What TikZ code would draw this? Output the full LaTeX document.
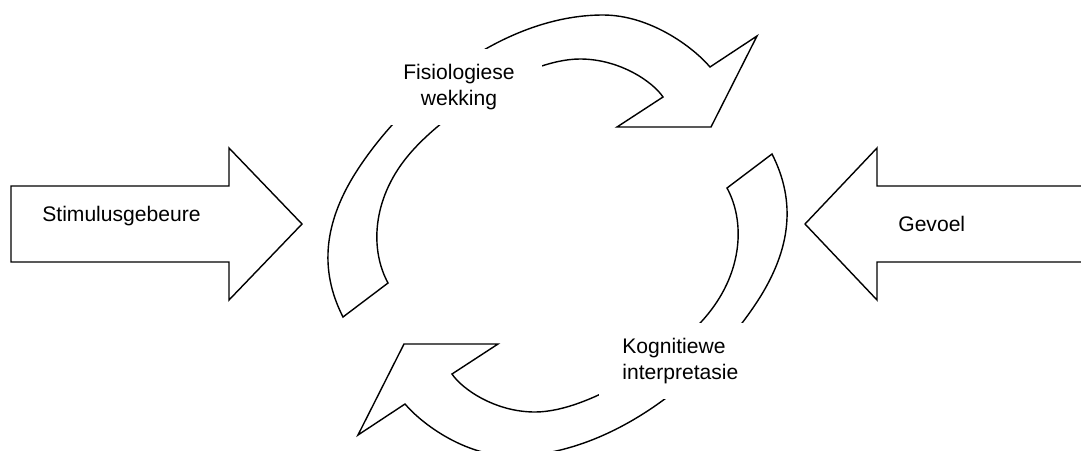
\documentclass[tikz,border=0pt]{standalone}
\usepackage{fontspec}
\setmainfont{Liberation Sans}
\usetikzlibrary{calc}

\begin{document}
\begin{tikzpicture}[
    x=0.02cm, y=-0.02cm,
    outline/.style={draw=black, line width=0.8pt, line join=miter},
    tag/.style={inner sep=0pt, font=\fontsize{12}{14.5}\selectfont},
    cover/.style={tag, fill=white, minimum height=15.2mm}
]
\useasboundingbox (0,0) rectangle (1081,450);
\clip (0,0) rectangle (1081,450);

% two curved arrows, the second one turned half round
\foreach \turn in {0,180}
  \draw[outline, rotate around={\turn:(557.5,235.5)}]
    (343,317) .. controls (318,268) and (326,222) .. (353,177)
    .. controls (400,100) and (500,15) .. (603,15)
    .. controls (650,15) and (693,47) .. (710,67)
    -- (757,36) -- (711,127) -- (617,127) -- (663,97)
    .. controls (653,82) and (620,59) .. (580,59)
    .. controls (525,59) and (440,116) .. (407,157)
    .. controls (372,200) and (370,250) .. (388,283)
    -- cycle;

\node[cover, align=center, minimum width=33.2mm] (fisio) at (459,87) {Fisiologiese\\wekking};
\node[cover, align=left, text width=24mm, inner xsep=4.6mm, anchor=west] (kognitief) at (599,361) {Kognitiewe\\interpretasie};

% big straight arrows
\draw[outline] (11,186) -- (229,186) -- (229,148) -- (302,224) -- (229,300) -- (229,262) -- (11,262) -- cycle;
\draw[outline] (1100,186) -- (877,186) -- (877,148) -- (805,224) -- (877,300) -- (877,262) -- (1100,262);

\node[tag, anchor=base west] (stimulus) at (42,221.5) {Stimulusgebeure};
\node[tag, anchor=base west] (gevoel) at (898,231) {Gevoel};
\end{tikzpicture}
\end{document}
